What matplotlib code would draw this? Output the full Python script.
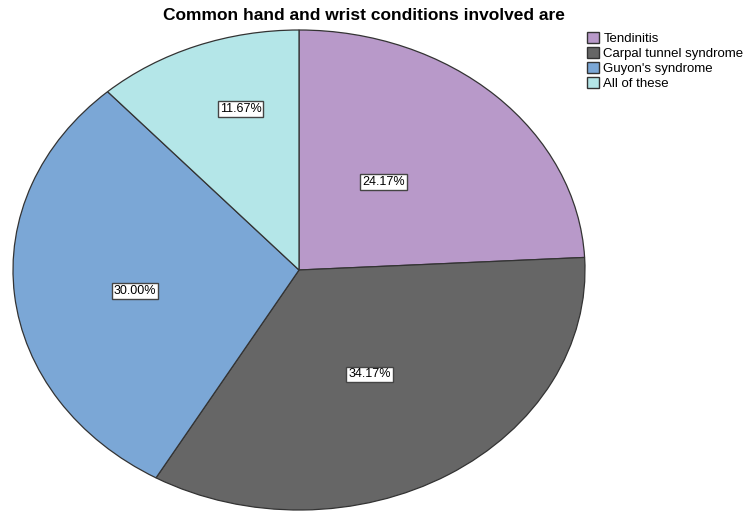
import matplotlib.pyplot as plt
import matplotlib.patches as mpatches
import numpy as np

plt.rcParams['font.family'] = ['Liberation Sans', 'DejaVu Sans']

categories = ["Tendinitis", "Carpal tunnel syndrome", "Guyon's syndrome", "All of these"]
percents = [24.17, 34.17, 30.00, 11.67]
colors = ["#B899C9", "#666666", "#7BA7D6", "#B4E6E8"]
label_radius = [0.47, 0.5, 0.58, 0.7]
label_shift = [4.5, -2, 2.6, -4]  # degrees

fig = plt.figure(figsize=(7.46, 5.11), dpi=100)
# stretched axes so the pie comes out as an ellipse
ax = fig.add_axes([13 / 746, 1 / 511, 572 / 746, 480 / 511])
wedges, _ = ax.pie(percents, colors=colors, startangle=90, counterclock=False,
                   wedgeprops=dict(edgecolor="#333333", linewidth=0.9))
ax.set_aspect("auto")
ax.set_xlim(-1, 1)
ax.set_ylim(-1, 1)
ax.axis("off")

for w, p, r, s in zip(wedges, percents, label_radius, label_shift):
    ang = np.deg2rad((w.theta1 + w.theta2) / 2 + s)
    ax.text(r * np.cos(ang), r * np.sin(ang), f"{p:.2f}%", ha="center", va="center",
            fontsize=9, bbox=dict(boxstyle="square,pad=0.15", fc="white", ec="#444444", lw=1))

fig.text(364 / 746, 1 - 16 / 511, "Common hand and wrist conditions involved are",
         ha="center", va="center", fontsize=12.5, fontweight="bold")

handles = [mpatches.Patch(facecolor=c, edgecolor="#333333", label=l) for c, l in zip(colors, categories)]
fig.legend(handles=handles, loc="upper left", bbox_to_anchor=(587 / 746, 1 - 32 / 511),
           frameon=False, fontsize=9.5, handlelength=0.9, handleheight=0.9,
           handletextpad=0.35, labelspacing=0.15, borderpad=0, borderaxespad=0)

fig.savefig("out.png", dpi=100)
